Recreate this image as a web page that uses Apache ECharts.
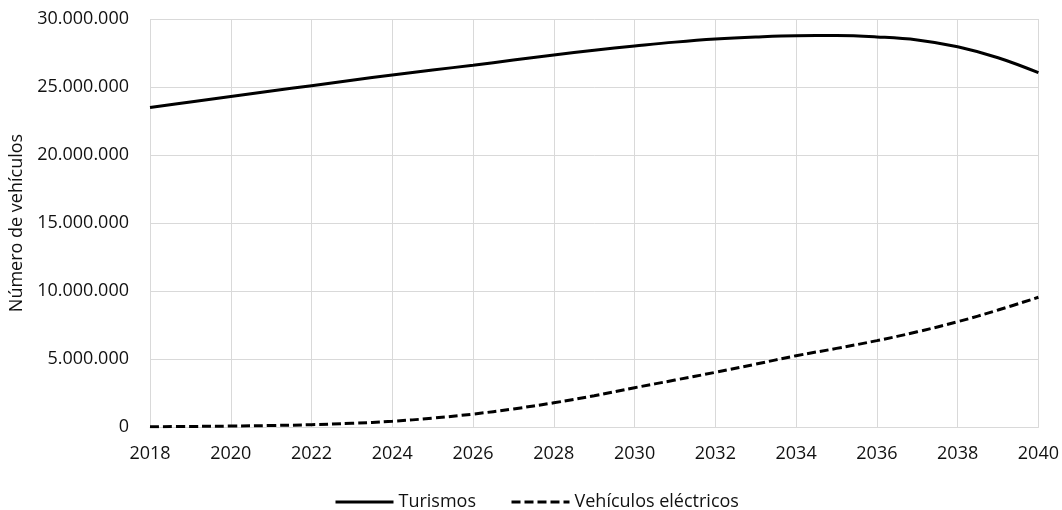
<!DOCTYPE html>
<html>
<head>
<meta charset="utf-8">
<style>
  html, body { margin: 0; padding: 0; background: #ffffff; }
  #chart { width: 1062px; height: 510px; }
</style>
<script src="https://cdn.jsdelivr.net/npm/echarts@6/dist/echarts.min.js"></script>
</head>
<body>
<div id="chart"></div>
<script>
// Years on the horizontal axis
const years = [2018, 2019, 2020, 2021, 2022, 2023, 2024, 2025, 2026, 2027, 2028, 2029,
               2030, 2031, 2032, 2033, 2034, 2035, 2036, 2037, 2038, 2039, 2040];

// Passenger cars (turismos), number of vehicles
const turismos = [23500000, 23900000, 24300000, 24700000, 25100000, 25500000, 25880000,
                  26250000, 26600000, 26980000, 27350000, 27700000, 28010000, 28300000,
                  28530000, 28680000, 28770000, 28780000, 28680000, 28460000, 27960000,
                  27150000, 26050000];

// Electric vehicles, number of vehicles
const electricos = [20000, 40000, 70000, 110000, 170000, 270000, 420000, 650000, 950000,
                    1330000, 1780000, 2300000, 2890000, 3450000, 4020000, 4620000, 5240000,
                    5780000, 6350000, 7000000, 7740000, 8600000, 9540000];

// Axis ticks
const yTicks = { min: 0, max: 30000000, interval: 5000000 };
const xTicks = { min: 2018, max: 2040, interval: 2 };

const seriesNames = ['Turismos', 'Vehículos eléctricos'];
const yAxisTitle = 'Número de vehículos';

const FONT = '"Open Sans", sans-serif';
const FONT_SIZE = 18;
const GRID_COLOR = '#d9d9d9';
const TEXT_COLOR = '#111111';

function thousands(v) {
  return String(Math.round(v)).replace(/\B(?=(\d{3})+(?!\d))/g, '.');
}

const pairs = (vals) => years.map((y, i) => [y, vals[i]]);

const chart = echarts.init(document.getElementById('chart'), null, { renderer: 'canvas' });

chart.setOption({
  animation: false,
  backgroundColor: '#ffffff',
  textStyle: { fontFamily: FONT },
  grid: { left: 150, right: 20, top: 19, bottom: 83, containLabel: false },
  legend: {
    data: seriesNames,
    top: 488,
    left: 329,
    itemWidth: 58,
    itemHeight: 1,
    itemGap: 34,
    lineStyle: { width: 3 },
    textStyle: { fontFamily: FONT, fontSize: FONT_SIZE, color: TEXT_COLOR }
  },
  xAxis: {
    type: 'value',
    min: xTicks.min,
    max: xTicks.max,
    interval: xTicks.interval,
    axisLine: { show: true, lineStyle: { color: GRID_COLOR, width: 1 } },
    axisTick: { show: false },
    splitLine: { show: true, lineStyle: { color: GRID_COLOR, width: 1 } },
    axisLabel: {
      fontFamily: FONT, fontSize: FONT_SIZE, color: TEXT_COLOR, margin: 18,
      formatter: (v) => String(v)
    }
  },
  yAxis: {
    type: 'value',
    min: yTicks.min,
    max: yTicks.max,
    interval: yTicks.interval,
    name: yAxisTitle,
    nameLocation: 'middle',
    nameGap: 124,
    nameRotate: 90,
    nameTextStyle: { fontFamily: FONT, fontSize: FONT_SIZE, color: TEXT_COLOR },
    axisLine: { show: false },
    axisTick: { show: false },
    splitLine: { show: true, lineStyle: { color: GRID_COLOR, width: 1 } },
    axisLabel: {
      fontFamily: FONT, fontSize: FONT_SIZE, color: TEXT_COLOR, margin: 21,
      formatter: thousands
    }
  },
  series: [
    {
      name: seriesNames[0],
      type: 'line',
      data: pairs(turismos),
      smooth: 0.4,
      showSymbol: false,
      symbol: 'none',
      lineStyle: { color: '#000000', width: 3, type: 'solid' },
      itemStyle: { color: '#000000' }
    },
    {
      name: seriesNames[1],
      type: 'line',
      data: pairs(electricos),
      smooth: 0.4,
      showSymbol: false,
      symbol: 'none',
      lineStyle: { color: '#000000', width: 3, type: [9, 4] },
      itemStyle: { color: '#000000' }
    }
  ]
});
</script>
</body>
</html>
